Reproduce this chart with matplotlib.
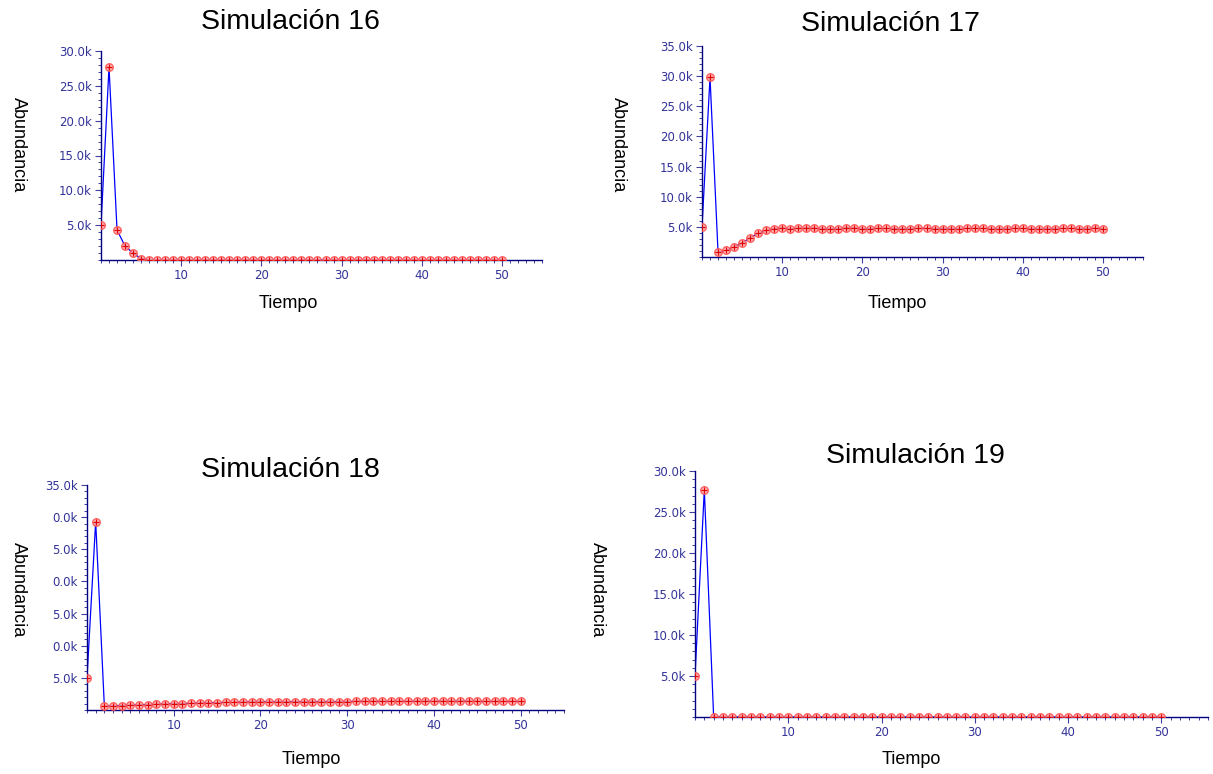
import matplotlib
matplotlib.use("Agg")
import matplotlib.pyplot as plt
from matplotlib.ticker import MultipleLocator, FixedLocator

# time steps shared by all four simulations
tiempo = list(range(51))

sim16 = [5000, 27700, 4300, 2000, 1000, 200, 0, 0, 0, 0,
         0, 0, 0, 0, 0, 0, 0, 0, 0, 0,
         0, 0, 0, 0, 0, 0, 0, 0, 0, 0,
         0, 0, 0, 0, 0, 0, 0, 0, 0, 0,
         0, 0, 0, 0, 0, 0, 0, 0, 0, 0, 0]

sim17 = [5000, 29800, 800, 1100, 1700, 2300, 3200, 3900, 4400, 4700,
         4800, 4650, 4750, 4800, 4780, 4700, 4650, 4720, 4780, 4800,
         4700, 4720, 4750, 4730, 4700, 4680, 4720, 4760, 4740, 4700,
         4720, 4700, 4680, 4740, 4760, 4750, 4700, 4690, 4720, 4760,
         4740, 4700, 4680, 4720, 4700, 4740, 4760, 4720, 4700, 4800, 4700]

sim18 = [5000, 29300, 600, 650, 700, 750, 800, 850, 900, 950,
         1000, 1000, 1050, 1100, 1150, 1150, 1200, 1200, 1250, 1250,
         1280, 1280, 1300, 1300, 1300, 1280, 1300, 1300, 1300, 1300,
         1320, 1330, 1330, 1340, 1340, 1340, 1350, 1350, 1380, 1380,
         1350, 1370, 1370, 1360, 1370, 1340, 1330, 1330, 1330, 1330, 1330]

sim19 = [5000, 27700, 0, 0, 0, 0, 0, 0, 0, 0,
         0, 0, 0, 0, 0, 0, 0, 0, 0, 0,
         0, 0, 0, 0, 0, 0, 0, 0, 0, 0,
         0, 0, 0, 0, 0, 0, 0, 0, 0, 0,
         0, 0, 0, 0, 0, 0, 0, 0, 0, 0, 0]

titulos = ["Simulación 16", "Simulación 17", "Simulación 18", "Simulación 19"]
x_ticks = [10, 20, 30, 40, 50]
y_ticks_30 = [5000, 10000, 15000, 20000, 25000, 30000]
y_labels_30 = ["5.0k", "10.0k", "15.0k", "20.0k", "25.0k", "30.0k"]
y_ticks_35 = [5000, 10000, 15000, 20000, 25000, 30000, 35000]
y_labels_35 = ["5.0k", "10.0k", "15.0k", "20.0k", "25.0k", "30.0k", "35.0k"]
# panel 18 tick labels are cut off at the left edge in the original
y_labels_18 = ["5.0k", "0.0k", "5.0k", "0.0k", "5.0k", "0.0k", "35.0k"]

W, H = 1213, 774
fig = plt.figure(figsize=(W / 100, H / 100), dpi=100)

AXIS = "#000080"
LABEL = "#333399"


def px_axes(left, right, top, bottom):
    return fig.add_axes([left / W, 1 - bottom / H, (right - left) / W, (bottom - top) / H])


def draw_panel(ax, values, ymax, yticks, ylabels):
    ax.plot(tiempo, values, color="#0000ff", lw=0.9, zorder=2)
    ax.plot(tiempo, values, ls="none", marker="o", ms=5.5, mfc="#ffa0a0",
            mec="#ff4848", mew=0.9, alpha=0.85, zorder=3)
    ax.plot(tiempo, values, ls="none", marker="+", ms=4, color="#e00000",
            mew=0.8, zorder=4)
    ax.set_xlim(0, 55)
    ax.set_ylim(0, ymax)
    for s in ["top", "right"]:
        ax.spines[s].set_visible(False)
    for s in ["left", "bottom"]:
        ax.spines[s].set_color(AXIS)
        ax.spines[s].set_linewidth(1.0)
    ax.xaxis.set_major_locator(FixedLocator(x_ticks))
    ax.xaxis.set_minor_locator(MultipleLocator(1))
    ax.set_yticks(yticks)
    ax.set_yticklabels(ylabels)
    ax.yaxis.set_minor_locator(MultipleLocator(1000))
    ax.tick_params(which="major", length=4.5, width=0.8, color="#4040a0",
                   labelsize=8.5, labelcolor=LABEL, pad=2)
    ax.tick_params(which="minor", length=2.5, width=0.7, color="#4040a0")
    ax.set_facecolor("none")


ax1 = px_axes(101, 542, 51, 260)
draw_panel(ax1, sim16, 30000, y_ticks_30, y_labels_30)
ax2 = px_axes(702, 1143, 46, 257)
draw_panel(ax2, sim17, 35000, y_ticks_35, y_labels_35)
ax3 = px_axes(87, 564, 485, 710)
draw_panel(ax3, sim18, 35000, y_ticks_35, y_labels_18)
ax4 = px_axes(695, 1208, 471, 717)
draw_panel(ax4, sim19, 30000, y_ticks_30, y_labels_30)

# titles and axis labels placed in pixel positions
title_pos = [(290, 29), (890, 31), (290, 477), (915, 463)]
for (x, y), t in zip(title_pos, titulos):
    fig.text(x / W, 1 - y / H, t, ha="center", va="baseline",
             fontsize=20.5, family="Liberation Sans", color="black")

tiempo_pos = [(288, 304), (897, 304), (311, 760), (911, 760)]
for x, y in tiempo_pos:
    fig.text(x / W, 1 - y / H, "Tiempo", ha="center", va="center",
             fontsize=13, family="Liberation Sans")

abund_pos = [(18, 145), (618, 145), (18, 590), (597, 590)]
for x, y in abund_pos:
    fig.text(x / W, 1 - y / H, "Abundancia", ha="center", va="center",
             rotation=-90, fontsize=13, family="Liberation Sans")

fig.savefig("out.png", dpi=100)
